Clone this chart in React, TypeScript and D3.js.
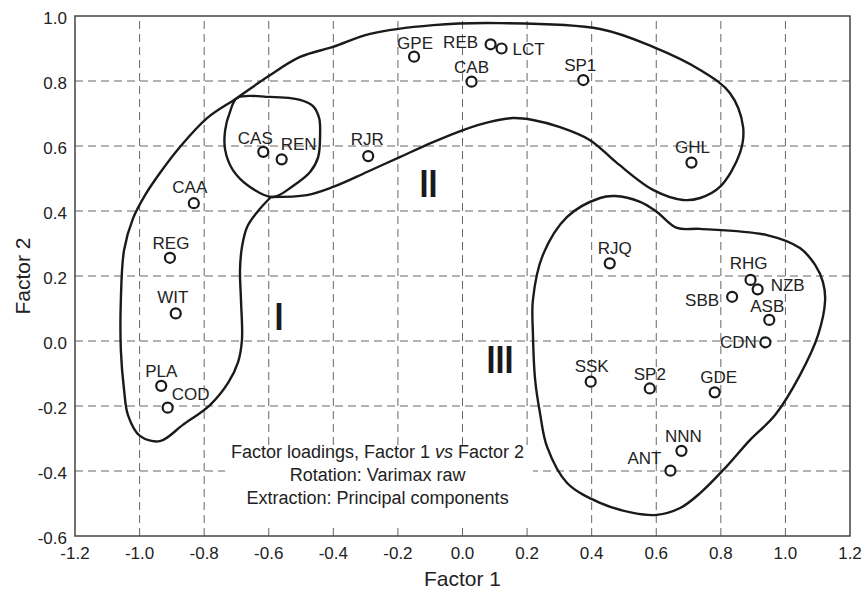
import * as d3 from "d3";

// factor loadings
const names = ["CAS", "REN", "RJR", "CAA", "REG", "WIT", "PLA", "COD", "GPE", "REB", "LCT", "CAB", "SP1", "GHL", "RJQ", "RHG", "NZB", "SBB", "ASB", "CDN", "SSK", "SP2", "GDE", "NNN", "ANT"];
const factor1 = [-0.617, -0.56, -0.292, -0.832, -0.906, -0.888, -0.933, -0.913, -0.15, 0.087, 0.121, 0.028, 0.374, 0.709, 0.456, 0.892, 0.914, 0.835, 0.95, 0.938, 0.397, 0.58, 0.781, 0.678, 0.644];
const factor2 = [0.582, 0.559, 0.569, 0.424, 0.256, 0.085, -0.138, -0.205, 0.875, 0.913, 0.9, 0.798, 0.803, 0.549, 0.239, 0.188, 0.159, 0.136, 0.065, -0.004, -0.125, -0.146, -0.158, -0.338, -0.399];

const xTicks = [-1.2, -1.0, -0.8, -0.6, -0.4, -0.2, 0.0, 0.2, 0.4, 0.6, 0.8, 1.0, 1.2];
const yTicks = [-0.6, -0.4, -0.2, 0.0, 0.2, 0.4, 0.6, 0.8, 1.0];

// hand drawn group outlines, in factor units
// groups I + II share one outline that starts and ends at the junction below CAS/REN
const outlineI_II: [number, number][] = [
  [-0.593, 0.443], [-0.633, 0.4], [-0.667, 0.351], [-0.683, 0.289], [-0.689, 0.218], [-0.686, 0.126],
  [-0.683, 0.003], [-0.695, -0.065], [-0.726, -0.129], [-0.782, -0.197], [-0.866, -0.258], [-0.937, -0.308],
  [-0.999, -0.292], [-1.036, -0.228], [-1.048, -0.151], [-1.058, -0.028], [-1.058, 0.126], [-1.048, 0.28],
  [-1.02, 0.378], [-0.983, 0.449], [-0.937, 0.517], [-0.875, 0.597], [-0.791, 0.686], [-0.698, 0.748],
  [-0.605, 0.812], [-0.503, 0.874], [-0.401, 0.905], [-0.286, 0.945], [-0.091, 0.972], [0.116, 0.978],
  [0.426, 0.96], [0.59, 0.905], [0.736, 0.834], [0.828, 0.763], [0.869, 0.658], [0.859, 0.578],
  [0.797, 0.474], [0.736, 0.44], [0.683, 0.434], [0.59, 0.465], [0.478, 0.548], [0.395, 0.618],
  [0.302, 0.658], [0.218, 0.68], [0.156, 0.686], [0.085, 0.674], [0.002, 0.649], [-0.091, 0.612],
  [-0.194, 0.566], [-0.296, 0.52], [-0.401, 0.474], [-0.482, 0.449], [-0.593, 0.443],
];
const outlineCAS: [number, number][] = [
  [-0.698, 0.748], [-0.596, 0.751], [-0.503, 0.742], [-0.463, 0.723], [-0.444, 0.686], [-0.441, 0.634],
  [-0.447, 0.566], [-0.472, 0.52], [-0.525, 0.477], [-0.587, 0.443], [-0.658, 0.474], [-0.711, 0.526],
  [-0.735, 0.588], [-0.735, 0.649], [-0.72, 0.705],
];
const outlineIII: [number, number][] = [
  [0.664, 0.348], [0.736, 0.345], [0.943, 0.326], [1.045, 0.286], [1.092, 0.234], [1.116, 0.182],
  [1.123, 0.126], [1.101, 0.018], [1.045, -0.105], [0.968, -0.228], [0.89, -0.305], [0.816, -0.388],
  [0.736, -0.468], [0.674, -0.514], [0.602, -0.535], [0.528, -0.529], [0.426, -0.498], [0.324, -0.437],
  [0.262, -0.326], [0.24, -0.222], [0.225, -0.12], [0.218, 0.025], [0.218, 0.126], [0.249, 0.265],
  [0.324, 0.382], [0.426, 0.44], [0.472, 0.446], [0.55, 0.428], [0.602, 0.397],
];

const groupNames = ["I", "II", "III"];
const groupX = [-0.568, -0.105, 0.116];
const groupY = [0.034, 0.443, -0.098];

// label placement: [dx, dy] in px from the point (dx to text centre, dy to baseline)
const labelOffset: Record<string, [number, number]> = {
  CAS: [-8, -8], REN: [17, -9], RJR: [-1, -11], CAA: [-4, -10], REG: [1, -9], WIT: [-3, -10],
  PLA: [0, -9], COD: [23, -8], GPE: [1, -8], REB: [-30, 4], LCT: [27, 6], CAB: [0, -9],
  SP1: [-3, -9], GHL: [1, -10], RJQ: [5, -9], RHG: [-2, -11], NZB: [30, 2], SBB: [-30, 9],
  ASB: [-2, -8], CDN: [-27, 6], SSK: [1, -10], SP2: [0, -8], GDE: [4, -9], NNN: [2, -9], ANT: [-26, -7],
};

const W = 868;
const H = 594;
const margin = { top: 16, right: 18, bottom: 58, left: 75 };
const font = "'Liberation Sans', Arial, sans-serif";
const ink = "#1a1a1a";

export default function App() {
  const x = d3.scaleLinear().domain([-1.2, 1.2]).range([margin.left, W - margin.right]);
  const y = d3.scaleLinear().domain([-0.6, 1.0]).range([H - margin.bottom, margin.top]);

  const openLine = d3
    .line<[number, number]>()
    .x((d) => x(d[0]))
    .y((d) => y(d[1]))
    .curve(d3.curveCatmullRom.alpha(0.5));
  const closedLine = d3
    .line<[number, number]>()
    .x((d) => x(d[0]))
    .y((d) => y(d[1]))
    .curve(d3.curveCatmullRomClosed.alpha(0.5));

  const points = names.map((n, i) => ({ name: n, f1: factor1[i], f2: factor2[i] }));

  // white box behind the caption
  const noteX = x(-0.263);
  const noteTop = y(-0.32);

  return (
    <svg width={W} height={H} style={{ position: "absolute", left: 0, top: 0, background: "#fff" }} fontFamily={font}>
      <rect x={0} y={0} width={W} height={H} fill="#fff" />

      {/* grid */}
      {xTicks.slice(1, -1).map((t) => (
        <line key={`gx${t}`} x1={x(t)} x2={x(t)} y1={y(-0.6)} y2={y(1.0)} stroke="#666" strokeWidth={1} strokeDasharray="8,5" />
      ))}
      {yTicks.slice(1, -1).map((t) => (
        <line key={`gy${t}`} x1={x(-1.2)} x2={x(1.2)} y1={y(t)} y2={y(t)} stroke="#666" strokeWidth={1} strokeDasharray="8,5" />
      ))}

      {/* caption */}
      <rect x={x(-0.735)} y={noteTop} width={x(0.218) - x(-0.735)} height={y(-0.57) - noteTop} fill="#fff" />
      <g fontSize={18} fill="#222" textAnchor="middle">
        <text x={noteX} y={y(-0.36)}>
          Factor loadings, Factor 1 <tspan fontStyle="italic">vs</tspan> Factor 2
        </text>
        <text x={noteX} y={y(-0.43)}>Rotation: Varimax raw</text>
        <text x={noteX} y={y(-0.5)}>Extraction: Principal components</text>
      </g>

      {/* frame */}
      <rect
        x={x(-1.2)}
        y={y(1.0)}
        width={x(1.2) - x(-1.2)}
        height={y(-0.6) - y(1.0)}
        fill="none"
        stroke="#444"
        strokeWidth={1.5}
      />

      {/* outlines */}
      <g fill="none" stroke={ink} strokeWidth={2.4} strokeLinejoin="round">
        <path d={openLine(outlineI_II) || ""} />
        <path d={closedLine(outlineCAS) || ""} />
        <path d={closedLine(outlineIII) || ""} />
      </g>

      {groupNames.map((g, i) => (
        <text
          key={g}
          x={x(groupX[i])}
          y={y(groupY[i])}
          textAnchor="middle"
          fontSize={38}
          fontWeight="bold"
          fill={ink}
          transform={`translate(${x(groupX[i])},0) scale(0.85,1) translate(${-x(groupX[i])},0)`}
        >
          {g}
        </text>
      ))}

      {/* points */}
      {points.map((p) => {
        const [dx, dy] = labelOffset[p.name] || [0, -9];
        return (
          <g key={p.name}>
            <text x={x(p.f1) + dx} y={y(p.f2) + dy} textAnchor="middle" fontSize={17} fill="#222">
              {p.name}
            </text>
            <circle cx={x(p.f1)} cy={y(p.f2)} r={5} fill="#fff" stroke={ink} strokeWidth={2.2} />
          </g>
        );
      })}

      {/* tick labels */}
      {xTicks.map((t) => (
        <text key={`tx${t}`} x={x(t)} y={y(-0.6) + 23} textAnchor="middle" fontSize={17} fill="#222">
          {t.toFixed(1)}
        </text>
      ))}
      {yTicks.map((t) => (
        <text key={`ty${t}`} x={x(-1.2) - 8} y={y(t) + 8} textAnchor="end" fontSize={17} fill="#222">
          {t.toFixed(1)}
        </text>
      ))}

      {/* axis titles */}
      <text x={(x(-1.2) + x(1.2)) / 2} y={586} textAnchor="middle" fontSize={21} fill="#222">
        Factor 1
      </text>
      <text
        transform={`translate(30,${(y(-0.6) + y(1.0)) / 2}) rotate(-90)`}
        textAnchor="middle"
        fontSize={21}
        fill="#222"
      >
        Factor 2
      </text>
    </svg>
  );
}
